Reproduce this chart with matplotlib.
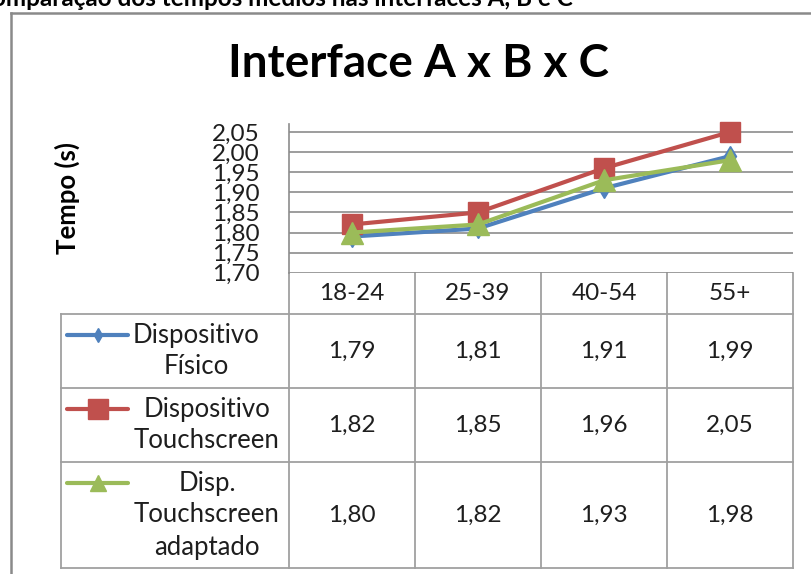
import matplotlib
matplotlib.use("Agg")
import matplotlib.pyplot as plt
from matplotlib.transforms import blended_transform_factory
from matplotlib.lines import Line2D

# ---- data ----
categories = ["18-24", "25-39", "40-54", "55+"]
series_names = ["Dispositivo\nFísico", "Dispositivo\nTouchscreen", "Disp.\nTouchscreen\nadaptado"]
fisico = [1.79, 1.81, 1.91, 1.99]
touch = [1.82, 1.85, 1.96, 2.05]
adaptado = [1.80, 1.82, 1.93, 1.98]
yticks = [1.70, 1.75, 1.80, 1.85, 1.90, 1.95, 2.00, 2.05]
title = "Interface A x B x C"
suptitle = "Comparação dos tempos médios nas interfaces A, B e C"
ylabel = "Tempo (s)"

series = [fisico, touch, adaptado]
colors = ["#4F81BD", "#C0504D", "#9BBB59"]
markers = ["d", "s", "^"]
msizes = [10.5, 15, 16]
leg_msizes = [7.5, 14, 12]
name_centers = [196, 207, 207]

plt.rcParams['font.family'] = ['Lato', 'DejaVu Sans']
W, H = 811, 574
fig = plt.figure(figsize=(W / 100, H / 100), dpi=100)

# overlay axes in pixel coordinates (y downward)
ov = fig.add_axes([0, 0, 1, 1])
ov.set_xlim(0, W)
ov.set_ylim(H, 0)
ov.axis("off")

txtc = "#1e1e1e"
gridc = "#8c8c8c"
tablec = "#a0a0a0"
fs = 17.5

# plot axes
x_left, x_right = 289, 793
y_top, y_bot = 124, 272.7
ax = fig.add_axes([x_left / W, (H - y_bot) / H, (x_right - x_left) / W, (y_bot - y_top) / H])
ax.set_xlim(-0.5, len(categories) - 0.5)
ax.set_ylim(1.70, 2.07)
ax.patch.set_alpha(0)
for s in ["top", "right", "bottom"]:
    ax.spines[s].set_visible(False)
ax.spines["left"].set_color(gridc)
ax.spines["left"].set_linewidth(1.2)
ax.set_xticks([])
ax.set_yticks(yticks)
ax.set_yticklabels([f"{v:.2f}".replace(".", ",") for v in yticks], fontsize=fs, color=txtc)
ax.tick_params(axis="y", length=0, pad=21)
for v in yticks:
    ax.axhline(v, color=gridc, lw=1.2, zorder=1)

xs = list(range(len(categories)))
for vals, c, m, ms in zip(series, colors, markers, msizes):
    ax.plot(xs, vals, color=c, lw=3, marker=m, ms=ms, markerfacecolor=c,
            markeredgecolor=c, zorder=3, clip_on=False)

# y label
fig.text(67 / W, 1 - 198 / H, ylabel, rotation=90, ha="center", va="center",
         fontsize=18.5, fontweight="bold", color="black")

# title and clipped top text
fig.text(418 / W, 1 - 64 / H, title, ha="center", va="center",
         fontsize=33, fontweight="bold", color="black")
fig.text(573 / W, 1 - 6 / H, suptitle, ha="right", va="baseline",
         fontsize=17.5, fontweight="bold", color="black")

# outer frame (only top and left visible)
ov.plot([11, 11], [H + 5, 12.5], color="#8a8a8a", lw=1.8)
ov.plot([11, W + 5], [12.5, 12.5], color="#8a8a8a", lw=1.8)

# data table
bt = blended_transform_factory(ax.transData, ov.transData)
row_lines = [314, 388, 462, 568]
table_left = 61
n = len(categories)
for k in range(n + 1):
    ov.plot([k - 0.5, k - 0.5], [y_bot, row_lines[-1]], color=tablec, lw=1.3, transform=bt)
ov.plot([table_left, table_left], [row_lines[0], row_lines[-1]], color=tablec, lw=1.3)
for yl in row_lines:
    ov.plot([table_left, x_right], [yl, yl], color=tablec, lw=1.3)

# category labels
for i, c in enumerate(categories):
    ov.text(i, 293, c, ha="center", va="center", fontsize=fs, color=txtc, transform=bt)

# values and legend cells
line_h = 32.5
for r, (name, vals, c, m, lms, cx) in enumerate(zip(series_names, series, colors, markers,
                                                    leg_msizes, name_centers)):
    top, bot = row_lines[r], row_lines[r + 1]
    mid = (top + bot) / 2
    for i, v in enumerate(vals):
        ov.text(i, mid, f"{v:.2f}".replace(".", ","), ha="center", va="center",
                fontsize=fs, color=txtc, transform=bt)
    nl = name.count("\n") + 1
    first_y = mid - (nl - 1) * line_h / 2
    ov.text(cx, mid, name, ha="center", va="center", fontsize=18.5, color=txtc,
            linespacing=1.35, multialignment="center")
    ov.add_line(Line2D([67, 128], [first_y, first_y], color=c, lw=3, solid_capstyle="round"))
    ov.add_line(Line2D([98], [first_y], marker=m, ms=lms, color=c, markeredgecolor=c))

fig.savefig("out.png", dpi=100)
